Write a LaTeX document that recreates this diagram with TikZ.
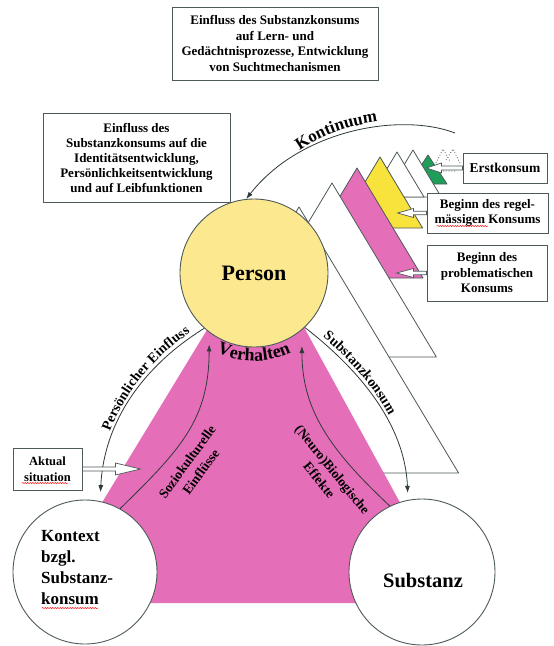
\documentclass[tikz,border=0pt]{standalone}
\usepackage{fontspec}
\setmainfont{Liberation Serif}
\usetikzlibrary{arrows.meta,decorations.text,decorations.pathmorphing}
\definecolor{pinkc}{RGB}{229,110,184}
\definecolor{personc}{RGB}{252,232,142}
\definecolor{yellowc}{RGB}{248,226,60}
\definecolor{greenc}{RGB}{30,158,88}
\definecolor{edgec}{RGB}{78,90,90}
\definecolor{linec}{RGB}{45,58,58}
\newcommand\stacktri[4]{\filldraw[fill=#4,draw=edgec,line width=0.8pt,line join=round] (#1,#2) -- ({#1+0.6*(#3-#2)},#3) -- ({#1-0.6*(#3-#2)},#3) -- cycle;}
\tikzset{
  infobox/.style={draw=edgec, fill=white, line width=0.9pt, align=center, inner sep=0pt, font=\bfseries\fontsize{13}{15.5}\selectfont},
  ring/.style={circle, draw=edgec, line width=0.9pt, inner sep=0pt},
  conn/.style={draw=linec, line width=0.8pt, -{Latex[length=7pt,width=5pt]}},
  blockarr/.style={draw=edgec, fill=white, line width=0.7pt, line join=miter},
  lbl/.style={font=\bfseries\fontsize{13.5}{17}\selectfont, align=center, inner sep=0pt},
  spell/.style={draw=red, line width=0.5pt, decorate, decoration={snake, amplitude=0.5pt, segment length=2.5pt}}
}
\begin{document}
\begin{tikzpicture}[x=1pt,y=-1pt]
\useasboundingbox (0,0) rectangle (554,646);
\fill[white] (0,0) rectangle (554,646);
% Kontinuum stack (back to front)
\filldraw[fill=greenc,draw=edgec,line width=0.8pt,line join=round] (428,155) -- (447,184) -- (409,184) -- cycle;
\stacktri{413}{150}{197}{white}
\stacktri{397}{152}{197}{white}
\stacktri{380}{157}{228}{yellowc}
\stacktri{357}{168}{278}{pinkc}
\stacktri{332}{183}{357}{white}
\stacktri{299}{207}{473}{white}
\draw[dotted, line width=0.8pt, edgec] (436,163) -- (443,149) -- (450,161) (446,160) -- (453,149) -- (460,163) (443,171) -- (456,171);
% pink main area
\fill[pinkc] (213,320) -- (300,320) -- (455,603) -- (41,603) -- cycle;
% circles
\node[ring, fill=personc, minimum size=148pt, font=\bfseries\fontsize{22}{22}\selectfont] (person) at (254,273) {Person};
\node[ring, fill=white, minimum size=144pt] (kontext) at (85,572) {};
\node[ring, fill=white, minimum size=146pt] (substanz) at (422,572) {};
\node[anchor=west, align=left, inner sep=0pt, font=\bfseries\fontsize{17}{21}\selectfont] (ktext) at (41,568) {Kontext\\bzgl.\\Substanz-\\konsum};
\node[inner sep=0pt, font=\bfseries\fontsize{20.5}{20.5}\selectfont] (stext) at (423,581) {Substanz};
% Kontinuum arc
\coordinate (kstart) at (455,133);
\draw[conn] (kstart) .. controls (400,112) and (300,130) .. (person.96);
\path[decorate, decoration={text along path, text align=center, text={|\bfseries\fontsize{17}{17}\selectfont|Kontinuum}}] (293,156) .. controls (318,136) and (350,124) .. (386,121);
% Persoenlicher Einfluss
\draw[conn, shorten >=9pt] (person.228) .. controls (145,365) and (104,420) .. (kontext.78);
\path[decorate, decoration={text along path, text align={right, right indent=14pt}, raise=4pt, text={|\bfseries\fontsize{14}{14}\selectfont|Persönlicher Einfluss}}] (kontext.78) .. controls (104,420) and (145,365) .. (person.228);
% Substanzkonsum
\draw[conn, shorten >=7pt] (person.313) .. controls (360,370) and (405,425) .. (substanz.101);
\path[decorate, decoration={text along path, text align={left, left indent=20pt}, raise=4pt, text={|\bfseries\fontsize{14}{14}\selectfont|Substanzkonsum}}] (person.313) .. controls (360,370) and (405,425) .. (substanz.101);
% Verhalten
\path[decorate, decoration={text along path, text align=center, text={|\bfseries\fontsize{18}{18}\selectfont|Verhalten}}] (197.4,340.4) arc[start angle=130, end angle=50, radius=88];
% inner arrows
\draw[conn, shorten >=12pt] (kontext.61) .. controls (180,450) and (209,420) .. (person.233);
\node[lbl, rotate=54] (sozio) at (194,467) {Soziokulturelle\\Einflüsse};
\draw[conn, shorten >=16pt] (substanz.116) .. controls (330,450) and (302,410) .. (person.310);
\node[lbl, rotate=-51] (neuro) at (326,475) {(Neuro)Biologische\\Effekte};
% boxes
\node[infobox, minimum width=206pt, minimum height=73pt] (topbox) at (275,43.5) {Einfluss des Substanzkonsums\\auf Lern- und\\Gedächtnisprozesse, Entwicklung\\von Suchtmechanismen};
\node[infobox, minimum width=187pt, minimum height=89pt, font=\bfseries\fontsize{13}{15}\selectfont] (leftbox) at (136.5,157.5) {Einfluss des\\Substanzkonsums auf die\\Identitätsentwicklung,\\Persönlichkeitsentwicklung\\und auf Leibfunktionen};
\node[infobox, minimum width=84pt, minimum height=30pt, font=\bfseries\fontsize{13.5}{15}\selectfont] (erst) at (505,168) {Erstkonsum};
\node[infobox, minimum width=121pt, minimum height=40pt] (regel) at (487.5,213) {Beginn des regel-\\mässigen Konsums};
\node[infobox, minimum width=120pt, minimum height=56pt] (problem) at (487,273) {Beginn des\\problematischen\\Konsums};
\node[infobox, minimum width=69pt, minimum height=42pt, font=\bfseries\fontsize{12.5}{16}\selectfont] (aktual) at (47.5,469) {Aktual\\situation};
% block arrows
\draw[blockarr] (erst.west) ++(0,-2) -- ++(-21,0) -- ++(0,-3) -- ++(-15,5) -- ++(15,5) -- ++(0,-3) -- ++(21,0) -- cycle;
\draw[blockarr] (regel.west) ++(0,-1.8) -- ++(-13,0) -- ++(0,-2.7) -- ++(-16,4.5) -- ++(16,4.5) -- ++(0,-2.7) -- ++(13,0) -- cycle;
\draw[blockarr] (problem.west) ++(0,-1.8) -- ++(-13,0) -- ++(0,-2.7) -- ++(-17,4.5) -- ++(17,4.5) -- ++(0,-2.7) -- ++(13,0) -- cycle;
\draw[blockarr] (aktual.east) ++(0,-2) -- ++(33,0) -- ++(0,-4) -- ++(25,6) -- ++(-25,6) -- ++(0,-4) -- ++(-33,0) -- cycle;
% spell-check marks
\draw[spell] (437,226) -- (488,226);
\draw[spell] (22,483) -- (68,483);
\draw[spell] (42,608) -- (98,608);
\end{tikzpicture}
\end{document}
